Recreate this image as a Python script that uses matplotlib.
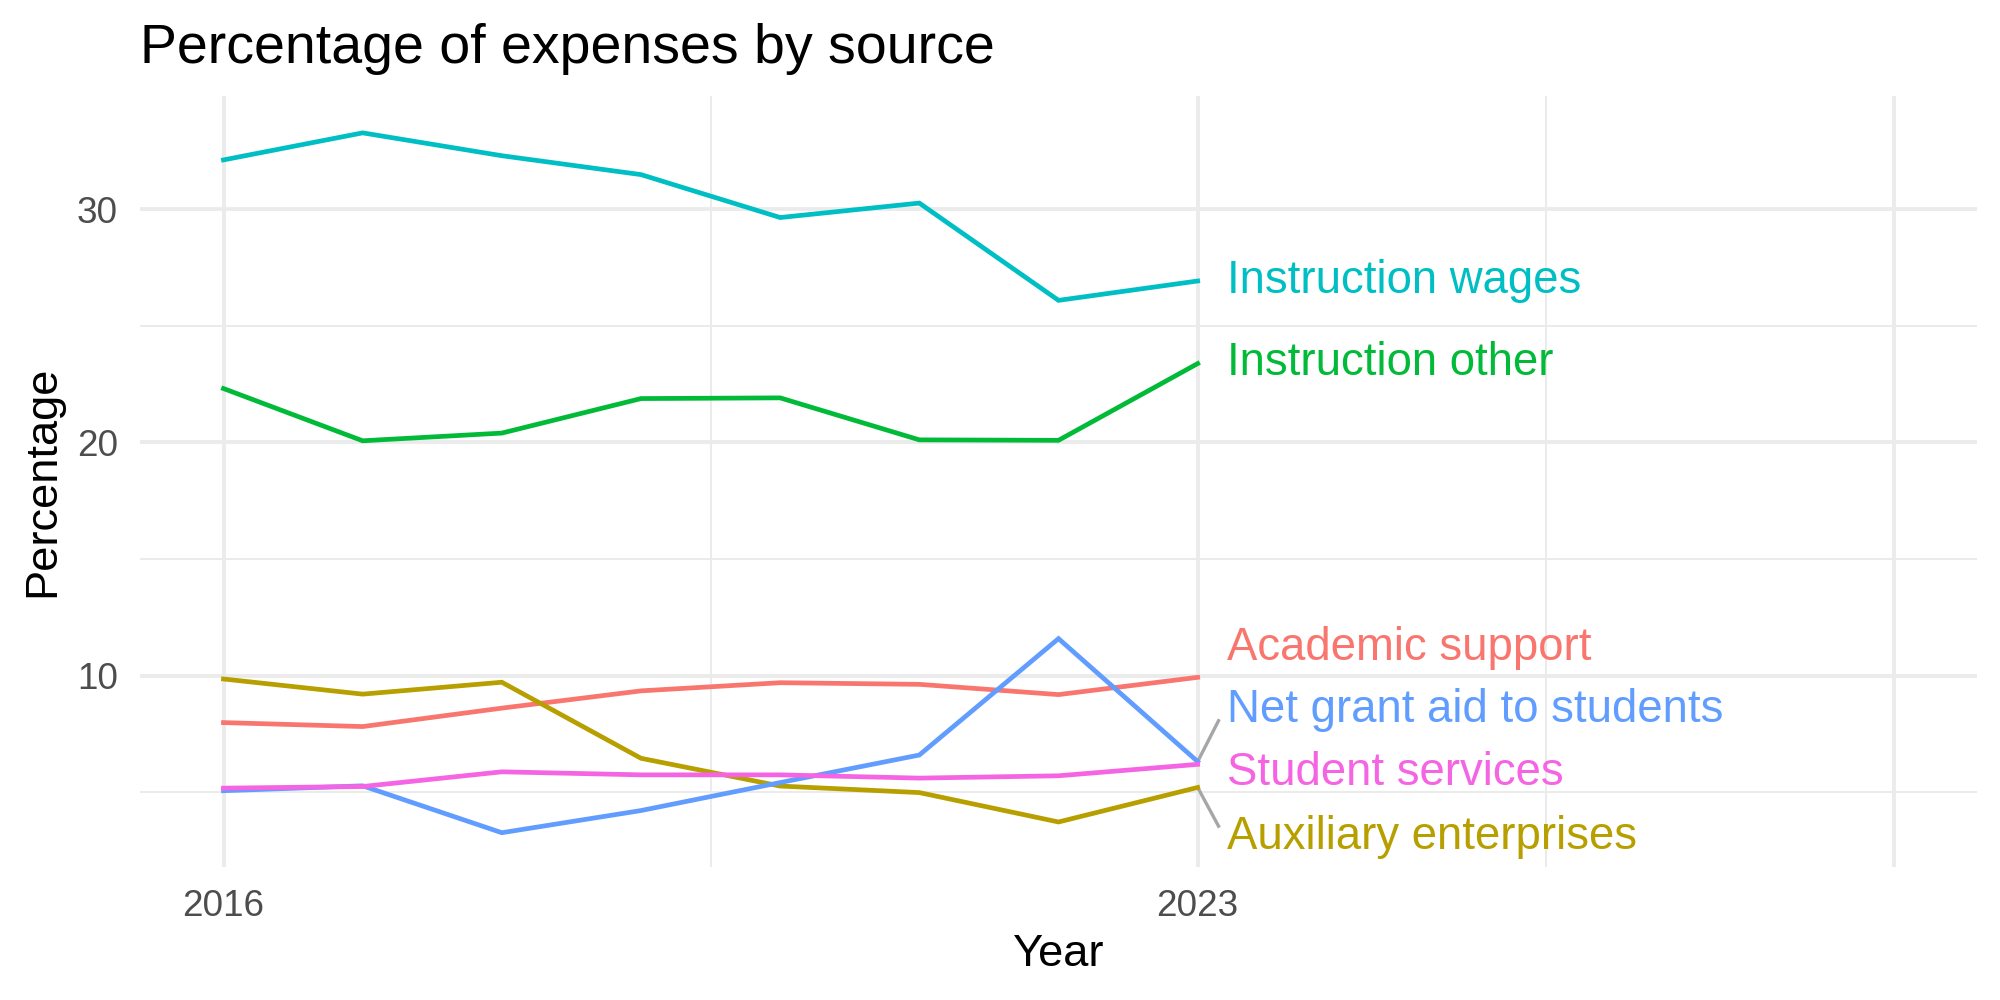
# Percentage of expenses by source, 2016 - 2023

import numpy as np
import matplotlib.pyplot as plt
from matplotlib.ticker import FixedLocator

plt.rcParams['font.family'] = ['Liberation Sans', 'DejaVu Sans']

years = [2016, 2017, 2018, 2019, 2020, 2021, 2022, 2023]

academic_support = [7.99, 7.82, 8.61, 9.35, 9.70, 9.63, 9.19, 9.93]
auxiliary_enterprises = [9.86, 9.21, 9.72, 6.46, 5.27, 4.99, 3.73, 5.21]
instruction_other = [22.31, 20.07, 20.40, 21.88, 21.91, 20.11, 20.09, 23.38]
instruction_wages = [32.11, 33.27, 32.29, 31.48, 29.64, 30.26, 26.09, 26.92]
net_grant_aid = [5.07, 5.28, 3.27, 4.22, 5.42, 6.60, 11.59, 6.32]
student_services = [5.18, 5.25, 5.88, 5.75, 5.75, 5.61, 5.71, 6.20]

names = ['Academic support', 'Auxiliary enterprises', 'Instruction other',
         'Instruction wages', 'Net grant aid to students', 'Student services']
series = [academic_support, auxiliary_enterprises, instruction_other,
          instruction_wages, net_grant_aid, student_services]
colors = ['#F8766D', '#B79F00', '#00BA38', '#00BFC4', '#619CFF', '#F564E3']

# y of the repelled labels
label_y = [11.2, 3.1, 23.39, 26.94, 8.52, 5.85]

fig = plt.figure(figsize=(10, 5), dpi=200)
ax = fig.add_axes([0.07, 0.133, 0.9185, 0.771])

for vals, c in zip(series, colors):
    ax.plot(years, vals, color=c, lw=1.7, solid_joinstyle='miter', zorder=3)

# labels at the end of each line
lx = years[-1] + 0.21
for name, vals, c, ly in zip(names, series, colors, label_y):
    ax.text(lx, ly, name, color=c, fontsize=16.4, va='center', ha='left', zorder=4)
    if abs(ly - vals[-1]) > 1.5:
        end = ly + (-0.45 if ly > vals[-1] else 0.45)
        ax.plot([years[-1], years[-1] + 0.15], [vals[-1], end], color='#A6A6A6', lw=1.2, zorder=2)

ax.set_xlim(2015.4, 2028.6)
ax.set_ylim(1.8, 34.85)

ax.set_xticks([2016, 2023, 2028])
ax.set_xticklabels(['2016', '2023', ''])
ax.xaxis.set_minor_locator(FixedLocator([2019.5, 2025.5]))
ax.set_yticks([10, 20, 30])
ax.yaxis.set_minor_locator(FixedLocator([5, 15, 25]))

ax.grid(which='major', color='#EBEBEB', lw=1.4)
ax.grid(which='minor', color='#EBEBEB', lw=0.7)
ax.set_axisbelow(True)
for s in ax.spines.values():
    s.set_visible(False)
ax.tick_params(axis='x', which='both', length=0, labelsize=13.3, labelcolor='#4D4D4D', pad=8)
ax.tick_params(axis='y', which='both', length=0, labelsize=13.3, labelcolor='#4D4D4D', pad=8)

ax.set_xlabel('Year', fontsize=16.3, labelpad=3.7)
ax.set_ylabel('Percentage', fontsize=16.3, labelpad=5)
ax.set_title('Percentage of expenses by source', loc='left', fontsize=20, pad=12)

fig.savefig('out.png', dpi=200, facecolor='white')
